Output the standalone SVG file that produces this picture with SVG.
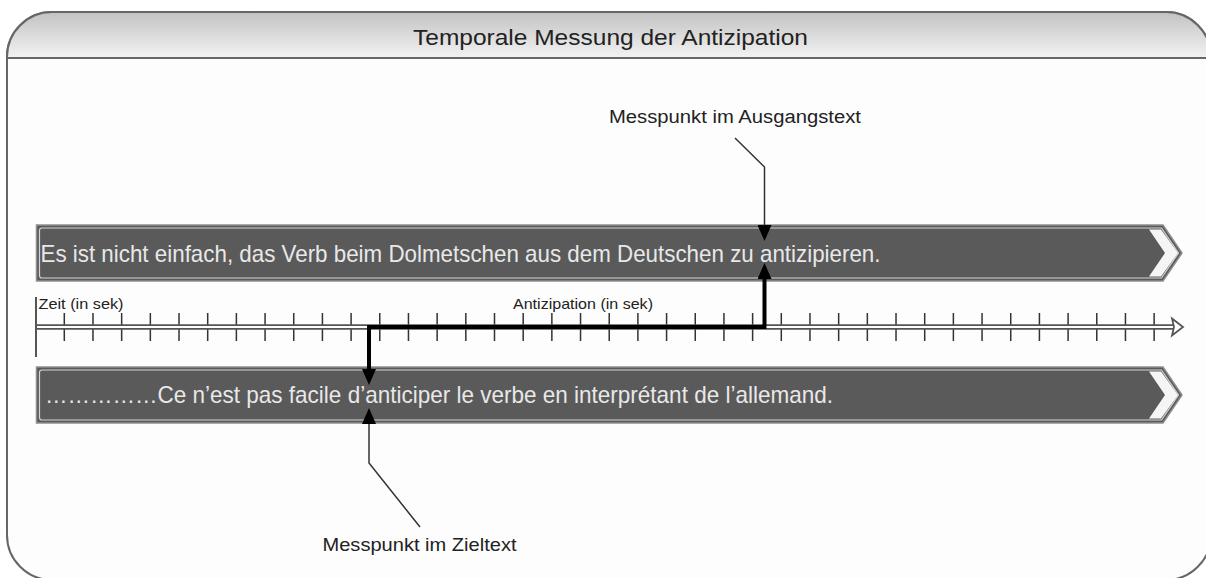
<svg xmlns="http://www.w3.org/2000/svg" xmlns:xlink="http://www.w3.org/1999/xlink" width="1206" height="578" viewBox="0 0 1206 578">
<style>
.lbl{font-family:"Liberation Sans",Arial,sans-serif;fill:#222}
.boxtxt{font-family:"Liberation Sans",Arial,sans-serif;fill:#e8e8e8;font-size:24px}
.thin{fill:none;stroke:#333;stroke-width:1.5}
.thick{fill:none;stroke:#000;stroke-width:4}
</style>
<defs>
<linearGradient id="hdr" x1="0" y1="0" x2="0" y2="1">
<stop offset="0" stop-color="#c2c2c2"/>
<stop offset="1" stop-color="#f3f3f3"/>
</linearGradient>
<marker id="ah" viewBox="0 0 16 14" refX="0" refY="7" markerWidth="16" markerHeight="14" markerUnits="userSpaceOnUse" orient="auto-start-reverse">
<path d="M0 0 L16 7 L0 14 Z" fill="#000"/>
</marker>
<g id="bar">
<path d="M36.5 225 H1163 L1182 253 L1163 281 H36.5 Z" fill="#5a5a5a" stroke="#8e8e8e" stroke-width="1.5"/>
<path d="M42 228 H1161.5 L1178.5 253 L1161.5 278 H42 Q39.5 278 39.5 275.5 V230.5 Q39.5 228 42 228 Z" fill="none" stroke="#d4d4d4" stroke-width="1.2"/>
<path d="M1149 229.5 H1161 L1178 253 L1161 276.5 H1149 L1165 253 Z" fill="#f5f5f5"/>
</g>
</defs>
<rect width="1206" height="578" fill="#ffffff"/>
<g id="frame">
<path d="M7 57 A45 45 0 0 1 52 12 H1166 A45 45 0 0 1 1211 57 V535 A45 45 0 0 1 1166 580 H52 A45 45 0 0 1 7 535 Z" fill="#fdfdfd" stroke="#666" stroke-width="2"/>
<path d="M7 58 V57 A45 45 0 0 1 52 12 H1166 A45 45 0 0 1 1211 57 V58 Z" fill="url(#hdr)" stroke="#666" stroke-width="2"/>
<text class="lbl" x="413" y="45" font-size="22" textLength="395" lengthAdjust="spacingAndGlyphs">Temporale Messung der Antizipation</text>
</g>
<g id="timeline">
<path d="M64.3 313v28m28.68 -28v28m28.68 -28v28m28.68 -28v28m28.68 -28v28m28.68 -28v28m28.68 -28v28m28.68 -28v28m28.68 -28v28m28.68 -28v28m28.68 -28v28m28.68 -28v28m28.68 -28v28m28.68 -28v28m28.68 -28v28m28.68 -28v28m28.68 -28v28m28.68 -28v28m28.68 -28v28m28.68 -28v28m28.68 -28v28m28.68 -28v28m28.68 -28v28m28.68 -28v28m28.68 -28v28m28.68 -28v28m28.68 -28v28m28.68 -28v28m28.68 -28v28m28.68 -28v28m28.68 -28v28m28.68 -28v28m28.68 -28v28m28.68 -28v28m28.68 -28v28m28.68 -28v28m28.68 -28v28m28.68 -28v28m28.68 -28v28" fill="none" stroke="#333" stroke-width="1.5"/>
<line x1="36" y1="297" x2="36" y2="357" stroke="#555" stroke-width="2"/>
<line x1="36" y1="327" x2="1176" y2="327" stroke="#555" stroke-width="5.5"/>
<line x1="37" y1="327" x2="1177" y2="327" stroke="#fff" stroke-width="2"/>
<path d="M1172 318.5 L1183 327 L1172 335.5 L1174 327 Z" fill="#fff" stroke="#555" stroke-width="1.8" stroke-linejoin="miter"/>
<text class="lbl" x="38.5" y="309" font-size="15" textLength="85" lengthAdjust="spacingAndGlyphs">Zeit (in sek)</text>
<text class="lbl" x="513" y="309" font-size="15" textLength="140" lengthAdjust="spacingAndGlyphs">Antizipation (in sek)</text>
</g>
<g id="node-source">
<use xlink:href="#bar" href="#bar"/>
<text class="boxtxt" x="40.5" y="261.5" textLength="840" lengthAdjust="spacingAndGlyphs">Es ist nicht einfach, das Verb beim Dolmetschen aus dem Deutschen zu antizipieren.</text>
</g>
<g id="node-target">
<use xlink:href="#bar" href="#bar" transform="translate(0,142)"/>
<text class="boxtxt" x="45" y="403" textLength="788" lengthAdjust="spacingAndGlyphs">……………Ce n’est pas facile d’anticiper le verbe en interprétant de l’allemand.</text>
</g>
<g id="label-source">
<text class="lbl" x="609" y="123" font-size="18" textLength="252" lengthAdjust="spacingAndGlyphs">Messpunkt im Ausgangstext</text>
</g>
<g id="label-target">
<text class="lbl" x="322.5" y="551" font-size="19" textLength="194" lengthAdjust="spacingAndGlyphs">Messpunkt im Zieltext</text>
</g>
<g id="connectors">
<path class="thick" d="M369 369 V327 H764.5 V279" marker-start="url(#ah)" marker-end="url(#ah)"/>
<path class="thin" d="M735 138 L764.5 167 V225" marker-end="url(#ah)"/>
<path class="thin" d="M420 527 L369 463 V424" marker-end="url(#ah)"/>
</g>
</svg>
